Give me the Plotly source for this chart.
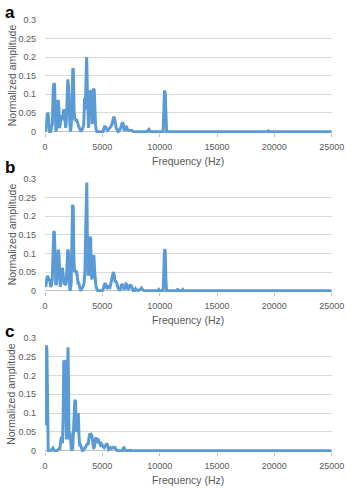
import plotly.graph_objects as go

# (frequency Hz, normalized amplitude)
spectrum_a = [
    (0, 0.015), (60, 0.0), (130, 0.02), (200, 0.05), (270, 0.048), (340, 0.02), (400, 0.0),
    (480, 0.0), (560, 0.01), (640, 0.02), (710, 0.11), (770, 0.13), (830, 0.125), (890, 0.03),
    (950, 0.0), (1020, 0.01), (1080, 0.04), (1150, 0.085), (1210, 0.06), (1270, 0.01),
    (1330, 0.02), (1390, 0.04), (1450, 0.03), (1510, 0.045), (1570, 0.035), (1620, 0.06),
    (1680, 0.05), (1740, 0.02), (1800, 0.01), (1860, 0.03), (1930, 0.13), (1990, 0.14),
    (2050, 0.12), (2110, 0.04), (2170, 0.02), (2230, 0.0), (2290, 0.02), (2360, 0.09),
    (2420, 0.17), (2470, 0.165), (2530, 0.06), (2590, 0.03), (2650, 0.035), (2710, 0.03),
    (2780, 0.03), (2850, 0.02), (2920, 0.015), (2990, 0.01), (3060, 0.005), (3140, 0.0),
    (3220, 0.005), (3300, 0.01), (3380, 0.02), (3450, 0.09), (3510, 0.06), (3570, 0.2),
    (3630, 0.2), (3690, 0.11), (3740, 0.02), (3800, 0.01), (3860, 0.06), (3920, 0.11),
    (3970, 0.108), (4020, 0.11), (4070, 0.04), (4120, 0.02), (4170, 0.09), (4230, 0.115),
    (4290, 0.112), (4340, 0.06), (4400, 0.02), (4460, 0.005), (4530, 0.0), (5050, 0.0),
    (5120, 0.005), (5200, 0.015), (5280, 0.012), (5360, 0.005), (5440, 0.003), (5520, 0.005),
    (5600, 0.008), (5680, 0.01), (5760, 0.015), (5840, 0.02), (5920, 0.03), (5990, 0.04),
    (6060, 0.035), (6130, 0.02), (6210, 0.01), (6290, 0.005), (6370, 0.0), (6450, 0.002),
    (6530, 0.005), (6610, 0.01), (6690, 0.02), (6760, 0.025), (6830, 0.02), (6900, 0.005),
    (6980, 0.005), (7050, 0.015), (7120, 0.012), (7200, 0.005), (7290, 0.004), (7380, 0.004),
    (7470, 0.004), (7560, 0.003), (7650, 0.001), (7750, 0.0), (8900, 0.0), (8980, 0.005),
    (9060, 0.006), (9140, 0.001), (9220, 0.0), (10300, 0.0), (10360, 0.05), (10420, 0.11),
    (10480, 0.105), (10540, 0.03), (10600, 0.0), (19400, 0.0), (19500, 0.002), (19600, 0.0),
    (25000, 0.0),
]

spectrum_b = [
    (0, 0.02), (70, 0.01), (140, 0.03), (210, 0.04), (280, 0.035), (350, 0.03), (420, 0.025),
    (490, 0.01), (560, 0.015), (630, 0.03), (700, 0.14), (760, 0.16), (820, 0.155), (880, 0.03),
    (940, 0.015), (1010, 0.02), (1080, 0.06), (1150, 0.11), (1210, 0.1), (1270, 0.02),
    (1330, 0.01), (1400, 0.04), (1470, 0.06), (1530, 0.058), (1590, 0.03), (1650, 0.02),
    (1720, 0.02), (1790, 0.015), (1850, 0.02), (1920, 0.07), (1980, 0.11), (2040, 0.105),
    (2100, 0.03), (2160, 0.0), (2220, 0.005), (2280, 0.02), (2340, 0.12), (2400, 0.23),
    (2460, 0.225), (2520, 0.08), (2580, 0.05), (2640, 0.055), (2700, 0.05), (2760, 0.052),
    (2820, 0.04), (2880, 0.02), (2950, 0.02), (3020, 0.005), (3100, 0.0), (3200, 0.005),
    (3300, 0.01), (3400, 0.02), (3480, 0.05), (3540, 0.15), (3590, 0.29), (3640, 0.29),
    (3700, 0.12), (3760, 0.04), (3820, 0.06), (3880, 0.1), (3930, 0.145), (3980, 0.14),
    (4040, 0.04), (4100, 0.03), (4160, 0.07), (4220, 0.095), (4270, 0.09), (4330, 0.05),
    (4390, 0.02), (4450, 0.01), (4520, 0.005), (4600, 0.0), (5000, 0.0), (5080, 0.005),
    (5160, 0.015), (5240, 0.02), (5320, 0.015), (5400, 0.005), (5480, 0.01), (5560, 0.015),
    (5640, 0.005), (5720, 0.015), (5800, 0.025), (5880, 0.04), (5950, 0.05), (6020, 0.045),
    (6100, 0.025), (6180, 0.025), (6260, 0.02), (6340, 0.01), (6420, 0.005), (6500, 0.0),
    (6580, 0.005), (6660, 0.015), (6740, 0.016), (6820, 0.01), (6900, 0.003), (6980, 0.01),
    (7060, 0.018), (7140, 0.016), (7220, 0.005), (7300, 0.005), (7380, 0.01), (7460, 0.016),
    (7540, 0.012), (7620, 0.003), (7700, 0.0), (7820, 0.0), (7900, 0.005), (7980, 0.002),
    (8100, 0.0), (8300, 0.003), (8420, 0.007), (8520, 0.002), (8650, 0.0), (9850, 0.0),
    (9920, 0.003), (10000, 0.0), (10300, 0.0), (10360, 0.05), (10420, 0.11), (10480, 0.108),
    (10540, 0.03), (10600, 0.0), (11500, 0.0), (11580, 0.005), (11660, 0.0), (11950, 0.0),
    (12020, 0.003), (12100, 0.0), (25000, 0.0),
]

spectrum_c = [
    (0, 0.067), (40, 0.28), (100, 0.28), (160, 0.27), (220, 0.02), (280, 0.0), (500, 0.0),
    (600, 0.005), (680, 0.007), (760, 0.002), (850, 0.0), (1050, 0.0), (1120, 0.004),
    (1200, 0.005), (1280, 0.003), (1340, 0.02), (1400, 0.033), (1460, 0.035), (1520, 0.02),
    (1580, 0.09), (1640, 0.24), (1700, 0.235), (1760, 0.24), (1810, 0.1), (1860, 0.03),
    (1900, 0.05), (1950, 0.27), (2000, 0.275), (2040, 0.2), (2090, 0.03), (2140, 0.05),
    (2190, 0.045), (2240, 0.02), (2290, 0.005), (2350, 0.0), (2420, 0.01), (2480, 0.05),
    (2540, 0.1), (2600, 0.135), (2660, 0.13), (2720, 0.05), (2780, 0.06), (2840, 0.1),
    (2900, 0.1), (2960, 0.04), (3020, 0.015), (3100, 0.015), (3180, 0.005), (3260, 0.0),
    (3360, 0.002), (3450, 0.005), (3540, 0.01), (3620, 0.015), (3700, 0.02), (3760, 0.015),
    (3820, 0.035), (3880, 0.045), (3950, 0.043), (4020, 0.044), (4090, 0.04), (4160, 0.02),
    (4230, 0.005), (4300, 0.01), (4360, 0.02), (4420, 0.035), (4480, 0.03), (4540, 0.032),
    (4600, 0.025), (4680, 0.027), (4760, 0.02), (4840, 0.015), (4920, 0.018), (5000, 0.012),
    (5080, 0.01), (5160, 0.008), (5240, 0.012), (5320, 0.018), (5400, 0.02), (5470, 0.012),
    (5550, 0.003), (5630, 0.005), (5710, 0.008), (5790, 0.006), (5870, 0.008), (5950, 0.009),
    (6030, 0.007), (6110, 0.008), (6200, 0.003), (6300, 0.0), (6750, 0.0), (6820, 0.007),
    (6900, 0.008), (6970, 0.001), (7100, 0.0), (7300, 0.001), (7450, 0.001), (7550, 0.0),
    (25000, 0.0),
]

panel_letters = ["a", "b", "c"]
freq_ticks = [0, 5000, 10000, 15000, 20000, 25000]
amp_ticks = [0, 0.05, 0.1, 0.15, 0.2, 0.25, 0.3]
amp_tick_labels = ["0", "0.05", "0.1", "0.15", "0.2", "0.25", "0.3"]
x_title = "Frequency (Hz)"
y_title = "Normalized amplitude"

W, H = 359, 491
LEFT, RIGHT = 44, 344
# (top pixel of 0.3, pixel of 0) for each panel
panel_px = [(15, 129), (177, 291), (339, 454)]
letter_y = [8, 166, 333]
Y_LO = -0.004

FONT = "Liberation Sans, Arial, sans-serif"
TICK_COL = "#595959"
LINE_COL = "#5B9BD5"

fig = go.Figure()
annotations = []
layout_axes = {}

for i, (spec, (top, zero)) in enumerate(zip([spectrum_a, spectrum_b, spectrum_c], panel_px)):
    n = "" if i == 0 else str(i + 1)
    xs = [p[0] for p in spec]
    ys = [p[1] for p in spec]
    fig.add_trace(go.Scatter(
        x=xs, y=ys, mode="lines", xaxis="x" + n, yaxis="y" + n,
        line=dict(color=LINE_COL, width=3), showlegend=False, hoverinfo="skip",
    ))
    scale = (zero - top) / 0.3
    bottom = zero + (-Y_LO) * scale
    layout_axes["xaxis" + n] = dict(
        domain=[LEFT / W, RIGHT / W], anchor="y" + n, range=[0, 25000],
        tickvals=freq_ticks, ticktext=[str(v) for v in freq_ticks],
        showgrid=False, zeroline=False, showline=False,
        ticks="outside", ticklen=3, tickcolor="#BFBFBF",
        tickfont=dict(family=FONT, size=9, color=TICK_COL),
        ticklabelstandoff=2,
    )
    layout_axes["yaxis" + n] = dict(
        domain=[1 - bottom / H, 1 - top / H], anchor="x" + n, range=[Y_LO, 0.3],
        tickvals=amp_ticks, ticktext=amp_tick_labels,
        showgrid=True, gridcolor="#D9D9D9", gridwidth=1,
        zeroline=True, zerolinecolor="#BFBFBF", zerolinewidth=1, showline=False,
        ticks="", tickfont=dict(family=FONT, size=9, color=TICK_COL),
        ticklabelstandoff=8,
    )
    annotations.append(dict(
        text=x_title, xref="paper", yref="paper", x=(LEFT + RIGHT) / 2 / W,
        y=1 - (zero + 30) / H, xanchor="center", yanchor="middle", showarrow=False,
        font=dict(family=FONT, size=10.5, color=TICK_COL),
    ))
    annotations.append(dict(
        text=y_title, xref="paper", yref="paper", x=9 / W,
        y=1 - (top + zero) / 2 / H, xanchor="center", yanchor="middle", showarrow=False,
        textangle=-90, font=dict(family=FONT, size=10.5, color=TICK_COL),
    ))
    annotations.append(dict(
        text="<b>" + panel_letters[i] + "</b>", xref="paper", yref="paper", x=7 / W,
        y=1 - letter_y[i] / H, xanchor="center", yanchor="middle", showarrow=False,
        font=dict(family=FONT, size=17, color="#000000"),
    ))

fig.update_layout(
    width=W, height=H, margin=dict(l=0, r=0, t=0, b=0),
    paper_bgcolor="white", plot_bgcolor="white",
    annotations=annotations, **layout_axes,
)

fig.write_html(
    "out.html",
    config={"displayModeBar": False, "staticPlot": True},
    post_script="document.body.style.margin='0';document.body.style.padding='0';"
                "document.documentElement.style.overflow='hidden';",
)
